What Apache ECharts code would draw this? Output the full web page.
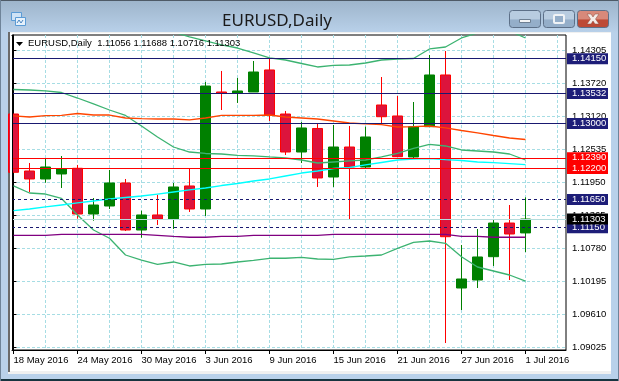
<!DOCTYPE html>
<html><head><meta charset="utf-8">
<style>html,body{margin:0;padding:0;background:#b9d1ea}#c{width:619px;height:381px}</style>
<script src="https://cdn.jsdelivr.net/npm/echarts@6/dist/echarts.min.js"></script></head>
<body><div id="c"></div>
<script>
// open, close, low, high per trading day
const opens  = [1.13168,1.12156,1.12014,1.12103,1.12204,1.11392,1.11534,1.11943,1.11108,1.11375,1.11304,1.11890,1.11481,1.13559,1.13536,1.13559,1.13950,1.13168,1.12493,1.12911,1.12049,1.12582,1.12227,1.13328,1.13133,1.12405,1.12943,1.13861,1.10078,1.10220,1.10634,1.11232,1.11056];
const closes = [1.12133,1.12014,1.12227,1.12197,1.11392,1.11552,1.11943,1.11108,1.11375,1.11304,1.11872,1.11481,1.13665,1.13536,1.13577,1.13914,1.13150,1.12493,1.12920,1.12032,1.12582,1.12227,1.12760,1.13120,1.12410,1.12943,1.13861,1.10989,1.10238,1.10629,1.11232,1.11037,1.11303];
const lows   = [1.12133,1.11783,1.11948,1.11854,1.11309,1.11273,1.11481,1.11090,1.10971,1.11197,1.11126,1.11428,1.11357,1.13239,1.13364,1.13559,1.13044,1.12440,1.12298,1.11872,1.11872,1.11286,1.12209,1.13008,1.12405,1.12387,1.12937,1.09101,1.09687,1.10078,1.10469,1.10220,1.10716];
const highs  = [1.13168,1.12298,1.12369,1.12422,1.12263,1.11676,1.12174,1.12014,1.11451,1.11730,1.11943,1.12209,1.13737,1.13932,1.13808,1.14109,1.14163,1.13222,1.13026,1.13008,1.12973,1.12955,1.12943,1.13825,1.13488,1.13381,1.14216,1.14287,1.10842,1.11126,1.11304,1.11552,1.11688];

const bandOuterUpper = [null,null,null,null,null,null,null,null,null,null,1.14624,1.14536,1.14465,1.14394,1.14340,1.14252,1.14163,1.14127,1.14065,1.14003,1.14030,1.14038,1.14074,1.14127,1.14145,1.14154,1.14323,1.14358,1.14518,1.14607,1.14660,1.14642,1.14518];
const bandInnerUpper = [1.13603,1.13594,1.13577,1.13550,1.13452,1.13346,1.13239,1.13142,1.12955,1.12760,1.12582,1.12493,1.12467,1.12458,1.12435,1.12426,1.12405,1.12387,1.12351,1.12298,1.12316,1.12334,1.12351,1.12405,1.12467,1.12556,1.12627,1.12600,1.12529,1.12511,1.12493,1.12458,1.12351];
const bandLower      = [1.11890,1.11765,1.11747,1.11668,1.11375,1.11108,1.10961,1.10664,1.10575,1.10499,1.10540,1.10469,1.10499,1.10504,1.10540,1.10570,1.10606,1.10606,1.10623,1.10593,1.10588,1.10629,1.10646,1.10664,1.10783,1.10890,1.10913,1.10872,1.10634,1.10451,1.10380,1.10309,1.10202];
const maOrange = [1.13133,1.13115,1.13138,1.13142,1.13177,1.13150,1.13150,1.13097,1.13085,1.13079,1.13079,1.13062,1.13097,1.13142,1.13145,1.13145,1.13150,1.13115,1.13097,1.13079,1.13044,1.13008,1.12991,1.12978,1.12937,1.12943,1.12955,1.12920,1.12875,1.12831,1.12786,1.12742,1.12715];
const maCyan   = [1.11451,1.11481,1.11517,1.11552,1.11588,1.11623,1.11659,1.11685,1.11712,1.11747,1.11783,1.11819,1.11854,1.11898,1.11934,1.11978,1.12014,1.12067,1.12120,1.12156,1.12200,1.12218,1.12263,1.12307,1.12351,1.12369,1.12374,1.12357,1.12342,1.12316,1.12303,1.12286,1.12268];
const maPurple = [1.11014,1.11014,1.11014,1.11032,1.11032,1.11032,1.11032,1.11032,1.11032,1.11014,1.10996,1.10979,1.10979,1.10996,1.10996,1.11014,1.11014,1.11014,1.11014,1.11014,1.11032,1.11032,1.11032,1.11032,1.11032,1.11032,1.11032,1.11032,1.10996,1.10996,1.10979,1.10979,1.10979];

const priceTicks = [1.14305,1.13720,1.13120,1.12535,1.11950,1.11365,1.10780,1.10195,1.09610,1.09025];
const dateTickIndex = [0,4,8,12,16,20,24,28,32];
const dateTickLabels = ['18 May 2016','24 May 2016','30 May 2016','3 Jun 2016','9 Jun 2016','15 Jun 2016','21 Jun 2016','27 Jun 2016','1 Jul 2016'];
const gridIndex = [2,4,6,8,10,12,14,16,18,20,22,24,26,28,30,32,34];

const navyLevels = [1.14150,1.13532,1.13000];
const navyDashedLevels = [1.11650,1.11150];
const redLevels = [1.12390,1.12200];
const bidLevel = 1.11303;
const headerText = 'EURUSD,Daily  1.11056 1.11688 1.10716 1.11303';
const titleText = 'EURUSD,Daily';

const FONT = '"Liberation Sans", sans-serif';
const candles = opens.map((o,i)=>[i,o,closes[i],lows[i],highs[i]]);
const indexed = arr => arr.map((v,i)=>[i,v]);
const lineS = (arr,color)=>({type:'line',data:indexed(arr),symbol:'none',z:3,silent:true,connectNulls:false,
  lineStyle:{color,width:1.3},clip:true,animation:false});
const level = (value,lineColor,type,boxColor)=>({yAxis:value,
  lineStyle:{color:lineColor,type,width:1,dashOffset:0},
  label:{show:true,position:'end',distance:1,formatter:value.toFixed(5),color:'#fff',
    backgroundColor:boxColor,fontFamily:FONT,fontSize:9.5,width:33,height:10,lineHeight:10,padding:[1,3,0,5]}});

const btn = (x,c1,c2)=>({type:'rect',shape:{x:x+.5,y:10.5,width:31,height:17,r:3},z:101,
  style:{fill:{type:'linear',x:0,y:0,x2:0,y2:1,colorStops:[{offset:0,color:c1},{offset:.5,color:c1},{offset:.55,color:c2},{offset:1,color:c2}]},stroke:'#5d7088',lineWidth:1}});

const chrome = [
  {type:'rect',shape:{x:0,y:0,width:619,height:381},z:-10,style:{fill:'#b9d1ea'}},
  {type:'rect',shape:{x:0,y:0,width:619,height:33},z:-9,style:{fill:{type:'linear',x:0,y:0,x2:0,y2:1,colorStops:[{offset:0,color:'#9db4ca'},{offset:1,color:'#b9d1ea'}]}}},
  {type:'rect',shape:{x:0,y:0,width:619,height:1},z:-8,style:{fill:'#4e5a66'}},
  {type:'rect',shape:{x:0,y:379,width:619,height:2},z:-8,style:{fill:'#17343f'}},
  {type:'rect',shape:{x:0,y:0,width:1,height:381},z:-8,style:{fill:'#6f8499'}},
  {type:'rect',shape:{x:618,y:0,width:1,height:381},z:-8,style:{fill:'#6f8499'}},
  {type:'rect',shape:{x:8,y:32,width:603,height:342},z:-7,style:{fill:'#f0f0f0'}},
  {type:'rect',shape:{x:8,y:32,width:2,height:340},z:-6,style:{fill:'#6b6b6b'}},
  {type:'rect',shape:{x:10,y:33,width:601,height:338},z:-6,style:{fill:'#fff'}},
  // mask that trims the first, partly off-chart candle at the plot's left edge
  {type:'rect',shape:{x:10,y:36,width:2,height:314},z:50,style:{fill:'#fff'}},
  {type:'rect',shape:{x:12,y:35,width:1,height:316},z:50,style:{fill:'#000'}},
  btn(509,'#b8cce0','#94aec9'),btn(543,'#b8cce0','#94aec9'),btn(577,'#d8897a','#bd4a36'),
  {type:'rect',shape:{x:519.5,y:19.5,width:11,height:3},z:102,style:{fill:'#f2f4f6',stroke:'#6d7f92',lineWidth:1}},
  {type:'rect',shape:{x:554,y:15,width:10,height:8,r:1},z:102,style:{fill:'#94aec9',stroke:'#f0f3f6',lineWidth:2}},
  {type:'polygon',shape:{points:[[587,14],[591,14],[593,17],[595,14],[599,14],[595.5,19],[599,24],[595,24],[593,21],[591,24],[587,24],[590.5,19]]},z:102,style:{fill:'#f4ece9',stroke:'#8a4a3c',lineWidth:.5}},
  {type:'rect',shape:{x:11.5,y:12.5,width:10,height:8},z:5,style:{fill:'#cfe3f6',stroke:'#5b9bd5',lineWidth:1}},
  {type:'rect',shape:{x:15.5,y:17.5,width:10,height:8},z:6,style:{fill:'#e6f1fb',stroke:'#5b9bd5',lineWidth:1}},
  {type:'polyline',shape:{points:[[17,23],[19,20],[21,23],[23,20]]},z:7,style:{stroke:'#4a86c0',fill:null,lineWidth:1}},
  {type:'text',x:277,y:21,z:100,style:{text:titleText,font:'17px "Noto Sans", sans-serif',fill:'#1a1a1a',align:'center',verticalAlign:'middle'}},
  {type:'polygon',shape:{points:[[16,42],[23,42],[19.5,46]]},z:100,style:{fill:'#000'}},
  {type:'text',x:28,y:43.5,z:100,style:{text:headerText,font:'9.5px '+FONT,fill:'#000',align:'left',verticalAlign:'middle'}}
];

const gridDash = {color:'#a6dde4',type:[3,2],width:1};
const xMin=-0.09375, xMax=34.53125;
const chart = echarts.init(document.getElementById('c'),null,{renderer:'canvas'});
chart.setOption({
  animation:false,
  backgroundColor:'transparent',
  grid:{left:12,top:35,width:554,height:315,show:true,backgroundColor:'#fff',borderColor:'#000',borderWidth:1,containLabel:false},
  graphic:chrome,
  xAxis:[
    {type:'value',min:xMin,max:xMax,position:'bottom',z:2,
     axisLine:{show:true,lineStyle:{color:'#000'}},
     axisTick:{show:true,customValues:dateTickIndex,length:4,lineStyle:{color:'#000'}},
     axisLabel:{show:true,customValues:dateTickIndex,align:'left',margin:5,color:'#000',fontFamily:FONT,fontSize:9.5,
       hideOverlap:false,formatter:v=>dateTickLabels[dateTickIndex.indexOf(Math.round(v))]||''},
     splitLine:{show:false}},
    {type:'value',min:xMin,max:xMax,position:'bottom',z:0,
     axisLine:{show:false},axisTick:{show:false,customValues:gridIndex},axisLabel:{show:false,customValues:gridIndex},
     splitLine:{show:true,showMinLine:true,showMaxLine:true,lineStyle:gridDash}}
  ],
  yAxis:{type:'value',position:'right',min:1.08977,max:1.14571,z:2,scale:true,
    axisLine:{show:true,lineStyle:{color:'#000'}},
    axisTick:{show:true,customValues:priceTicks,length:3,lineStyle:{color:'#000'}},
    axisLabel:{show:true,customValues:priceTicks,margin:6,color:'#000',fontFamily:FONT,fontSize:9.5,formatter:v=>v.toFixed(5)},
    splitLine:{show:true,lineStyle:gridDash}},
  series:[
    {type:'candlestick',data:candles,encode:{x:0,y:[1,2,3,4]},barWidth:10,z:2,clip:true,silent:true,
     itemStyle:{color:'#008000',color0:'#DC143C',borderColor:'#008000',borderColor0:'#FF0000',borderWidth:1}},
    lineS(bandOuterUpper,'#3CB371'),lineS(bandInnerUpper,'#3CB371'),lineS(bandLower,'#3CB371'),
    lineS(maOrange,'#FF4500'),lineS(maCyan,'#00FFFF'),lineS(maPurple,'#800080'),
    {type:'line',data:[],z:10,silent:true,
     markLine:{silent:true,symbol:'none',animation:false,z:10,precision:5,data:[
       ...navyLevels.map(v=>level(v,'#191970','solid','#1d1d78')),
       ...navyDashedLevels.map(v=>level(v,'#191970',[3,3],'#1d1d78')),
       ...redLevels.map(v=>level(v,'#FF0000','solid','#FF0000')),
       level(bidLevel,'#B5DCDC','solid','#000000')
     ]}}
  ]
});
</script></body></html>
